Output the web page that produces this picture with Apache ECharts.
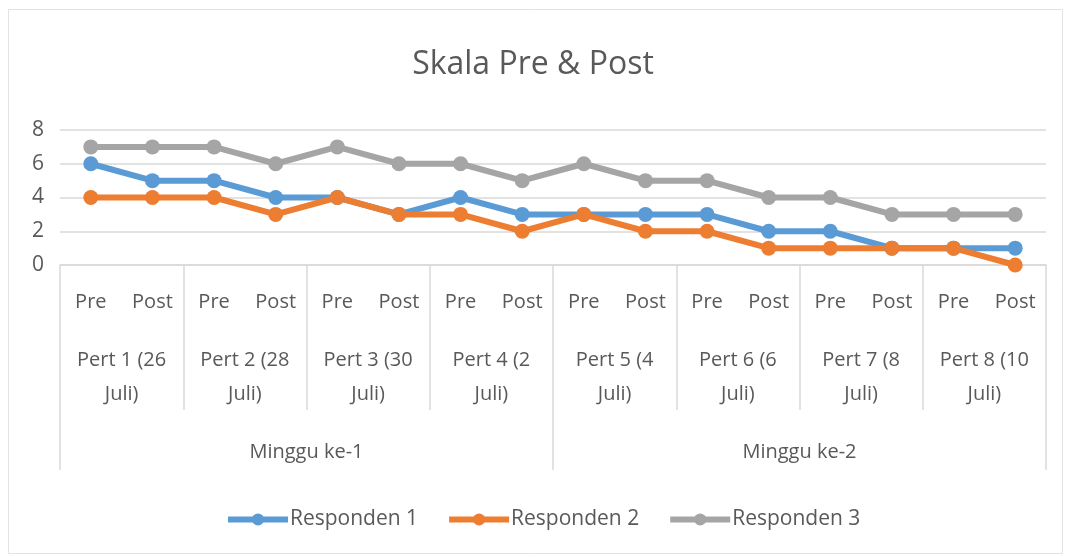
<!DOCTYPE html>
<html>
<head>
<meta charset="utf-8">
<script src="https://cdn.jsdelivr.net/npm/echarts@6/dist/echarts.min.js"></script>
<style>
html,body{margin:0;padding:0;background:#fff;}
#c{width:1066px;height:557px;}
</style>
</head>
<body>
<div id="c"></div>
<script>
const prePost = ['Pre','Post','Pre','Post','Pre','Post','Pre','Post','Pre','Post','Pre','Post','Pre','Post','Pre','Post'];
const pertemuan = ['Pert 1 (26\nJuli)','Pert 2 (28\nJuli)','Pert 3 (30\nJuli)','Pert 4 (2\nJuli)','Pert 5 (4\nJuli)','Pert 6 (6\nJuli)','Pert 7 (8\nJuli)','Pert 8 (10\nJuli)'];
const minggu = ['Minggu ke-1','Minggu ke-2'];
const seriesNames = ['Responden 1','Responden 2','Responden 3'];
const responden1 = [6,5,5,4,4,3,4,3,3,3,3,2,2,1,1,1];
const responden2 = [4,4,4,3,4,3,3,2,3,2,2,1,1,1,1,0];
const responden3 = [7,7,7,6,7,6,6,5,6,5,5,4,4,3,3,3];
const yTicks = {min:0, max:8, interval:2};

const txt = '#595959';
const lineC = '#d9d9d9';
const font = 'Open Sans';
const colors = ['#5b9bd5','#ed7d31','#a5a5a5'];
const chart = echarts.init(document.getElementById('c'));
const mk = (name, data, i) => ({
  name, type:'line', data, xAxisIndex:0, yAxisIndex:0,
  symbol:'circle', symbolSize:15,
  lineStyle:{width:6, color:colors[i]},
  itemStyle:{color:colors[i]},
  emphasis:{disabled:true}
});
chart.setOption({
  animation:false,
  color:colors,
  textStyle:{fontFamily:font},
  graphic:[{type:'rect', shape:{x:8.5,y:9.5,width:1054,height:544}, style:{fill:'none', stroke:'#e3e3e3', lineWidth:1}, silent:true}],
  title:{text:'Skala Pre & Post', left:'center', top:44, textStyle:{fontFamily:font, fontSize:32, fontWeight:'normal', color:txt}},
  legend:{bottom:22, left:220, itemWidth:60, itemHeight:15, itemGap:28,
    lineStyle:{width:6},
    textStyle:{fontFamily:font, fontSize:21, color:txt, padding:[0,0,0,-3]}, data:seriesNames},
  grid:{left:60, right:20, top:130, bottom:292, containLabel:false},
  yAxis:{type:'value', min:yTicks.min, max:yTicks.max, interval:yTicks.interval,
    axisLine:{show:false}, axisTick:{show:false},
    axisLabel:{fontSize:21, color:txt, margin:16, fontFamily:font},
    splitLine:{lineStyle:{color:lineC, width:1.5}}},
  xAxis:[
    {type:'category', data:prePost, position:'bottom', boundaryGap:true,
      axisLine:{show:true, lineStyle:{color:lineC, width:1.5}}, axisTick:{show:false},
      axisLabel:{interval:0, fontSize:20, color:txt, margin:27, fontFamily:font}},
    {type:'category', data:pertemuan, position:'bottom', boundaryGap:true,
      axisLine:{show:false}, axisTick:{show:true, length:145, interval:0, lineStyle:{color:lineC, width:1.5}},
      axisLabel:{interval:0, fontSize:20, lineHeight:34, color:txt, margin:78, fontFamily:font}},
    {type:'category', data:minggu, position:'bottom', boundaryGap:true,
      axisLine:{show:false}, axisTick:{show:true, length:205, interval:0, lineStyle:{color:lineC, width:1.5}},
      axisLabel:{interval:0, fontSize:20, color:txt, margin:177, fontFamily:font}}
  ],
  series:[mk(seriesNames[0], responden1, 0), mk(seriesNames[1], responden2, 1), mk(seriesNames[2], responden3, 2)]
});
</script>
</body>
</html>
